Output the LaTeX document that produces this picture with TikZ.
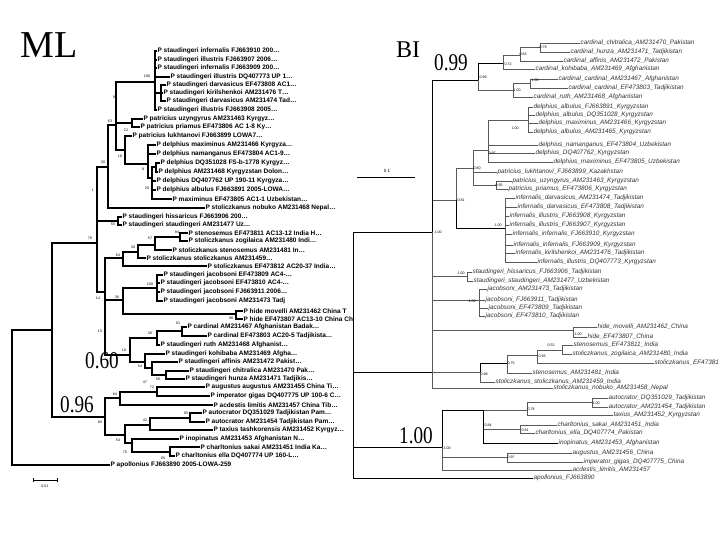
\documentclass[tikz,border=0pt]{standalone}
\usepackage{graphicx}
\usepackage{fontspec}
\setmainfont{Liberation Serif}
\newfontfamily\taxfont{Liberation Sans}
\tikzset{
  mlleaf/.style={anchor=west,inner sep=0.4pt,font=\taxfont\bfseries\fontsize{6.5}{7}\selectfont},
  bileaf/.style={anchor=west,inner sep=0.4pt,text=black!80,font=\taxfont\itshape\fontsize{6.4}{7}\selectfont},
  mledge/.style={line width=1.3pt},
  biedge/.style={line width=0.6pt,draw=black!65},
  support/.style={inner sep=0pt,font=\taxfont\fontsize{3.6}{4}\selectfont},
  bigval/.style={inner sep=0pt,font=\fontsize{24}{24}\selectfont},
}
\begin{document}
\begin{tikzpicture}[x=1pt,y=-1pt]
\useasboundingbox[fill=white] (0,0) rectangle (720,540);

% ---- ML tree ----
\node[inner sep=0pt,font=\fontsize{38}{38}\selectfont] (mltitle) at (49,45) {ML};

\foreach \n/\x/\y/\t in {
 1/157/51/{P staudingeri infernalis FJ663910 200\ldots},
 2/157/60/{P staudingeri illustris FJ663907 2006\ldots},
 3/157/68/{P staudingeri infernalis FJ663909 200\ldots},
 4/170/77/{P staudingeri illustris DQ407773 UP 1\ldots},
 5/166/85/{P staudingeri darvasicus EF473808 AC1\ldots},
 6/163/93/{P staudingeri kirilshenkoi AM231476 T\ldots},
 7/166/101/{P staudingeri darvasicus AM231474 Tad\ldots},
 8/157/110/{P staudingeri illustris FJ663908 2005\ldots},
 9/143/119/{P patricius uzyngyrus AM231463 Kyrgyz\ldots},
 10/140/127/{P patricius priamus EF473806 AC 1-8 Ky\ldots},
 11/132/136/{P patricius lukhtanovi FJ663899 LOWA7\ldots},
 12/156/145/{P delphius maximinus AM231466 Kyrgyza\ldots},
 13/156/154/{P delphius namanganus EF473804 AC1-9\ldots},
 14/160/163/{P delphius DQ351028 FS-b-1778 Kyrgyz\ldots},
 15/158/172/{P delphius AM231468 Kyrgyzstan Dolon\ldots},
 16/156/181/{P delphius DQ407762 UP 190-11 Kyrgyza\ldots},
 17/156/190/{P delphius albulus FJ663891 2005-LOWA\ldots},
 18/172/199/{P maximinus EF473805 AC1-1 Uzbekistan\ldots},
 19/205/208/{P stoliczkanus nobuko AM231468 Nepal\ldots},
 20/122/217/{P staudingeri hissaricus FJ663906 200\ldots},
 21/122/225/{P staudingeri staudingeri AM231477 Uz\ldots},
 22/188/233/{P stenosemus EF473811 AC13-12 India H\ldots},
 23/188/241/{P stoliczkanus zogilaica AM231480 Indi\ldots},
 24/172/250/{P stoliczkanus stenosemus AM231481 In\ldots},
 25/146/258/{P stoliczkanus stoliczkanus AM231459\ldots},
 26/207/266/{P stoliczkanus EF473812 AC20-37 India\ldots},
 27/163/275/{P staudingeri jacobsoni EF473809 AC4-\ldots},
 28/160/283/{P staudingeri jacobsoni EF473810 AC4-\ldots},
 29/160/292/{P staudingeri jacobsoni FJ663911 2006\ldots},
 30/163/301/{P staudingeri jacobsoni AM231473 Tadj},
 31/243/311/{P hide movelli AM231462 China T},
 32/243/319/{P hide EF473807 AC13-10 China Ch},
 33/187/327/{P cardinal AM231467 Afghanistan Badak\ldots},
 34/207/336/{P cardinal EF473803 AC20-5 Tadjikista\ldots},
 35/160/345/{P staudingeri ruth AM231468 Afghanist\ldots},
 36/165/354/{P staudingeri kohibaba AM231469 Afgha\ldots},
 37/178/362/{P staudingeri affinis AM231472 Pakist\ldots},
 38/189/371/{P staudingeri chitralica AM231470 Pak\ldots},
 39/185/379/{P staudingeri hunza AM231471 Tadjikis\ldots},
 40/205/387/{P augustus augustus AM231455 China Ti\ldots},
 41/210/396/{P imperator gigas DQ407775 UP 100-6 C\ldots},
 42/213/405/{P acdestis limitis AM231457 China Tib\ldots},
 43/202/413/{P autocrator DQ351029 Tadjikistan Pam\ldots},
 44/205/422/{P autocrator AM231454 Tadjikistan Pam\ldots},
 45/213/430/{P taxius tashkorensis AM231452 Kyrgyz\ldots},
 46/179/439/{P inopinatus AM231453 Afghanistan N\ldots},
 47/200/447/{P charltonius sakai AM231451 India Ka\ldots},
 48/175/456/{P charltonius ella DQ407774 UP 160-L\ldots},
 49/110/465/{P apollonius FJ663890 2005-LOWA-259}}
  \node[mlleaf] (m\n) at (\x,\y) {\t};

\foreach \n/\x/\y in {mRoot/12/398, mI/52/330, mA/97/243, mB/108/167, mC/116/125,
  mInf/155/82, mDarv/161/93, mPat/132/123, mLuk/125/150, mDel/148/164,
  mDel2/152/178, mDel3/156/167, mHis/118/221, mS/105/292, mSto/123/258,
  mSto2/138/252, mSto3/155/245, mSten/180/237, mJH/123/300, mJac/157/288,
  mHide/236/314, mCar/130/355, mCar2/157/338, mCard/182/331, mKoh/145/362,
  mAff/152/368, mChi/166/375, mL/105/417, mAug/120/398, mAI/157/392,
  mAut/125/435, mAuT/150/425, mAu/190/418, mIno/132/443, mCh/170/452}
  \coordinate (\n) at (\x,\y);

\foreach \p/\c in {mRoot/mI, mRoot/m49, mI/mA, mI/mL, mA/mB, mA/mHis, mA/mS,
  mB/mC, mB/m19, mC/mInf, mC/mPat, mC/mLuk,
  mInf/m1, mInf/m2, mInf/m3, mInf/m4, mInf/mDarv, mInf/m8,
  mDarv/m5, mDarv/m6, mDarv/m7, mPat/m9, mPat/m10, mLuk/m11, mLuk/mDel,
  mDel/m12, mDel/m13, mDel/mDel2, mDel2/mDel3, mDel2/m16, mDel2/m17, mDel2/m18,
  mDel3/m14, mDel3/m15, mHis/m20, mHis/m21, mS/mSto, mS/mJH, mS/mCar,
  mSto/mSto2, mSto/m26, mSto2/mSto3, mSto2/m25, mSto3/mSten, mSto3/m24,
  mSten/m22, mSten/m23, mJH/mJac, mJH/mHide,
  mJac/m27, mJac/m28, mJac/m29, mJac/m30, mHide/m31, mHide/m32,
  mCar/mCar2, mCar/mKoh, mCar2/mCard, mCar2/m35, mCard/m33, mCard/m34,
  mKoh/m36, mKoh/mAff, mAff/m37, mAff/mChi, mChi/m38, mChi/m39,
  mL/mAug, mL/mAut, mAug/mAI, mAug/m42, mAI/m40, mAI/m41,
  mAut/mAuT, mAut/mIno, mAuT/mAu, mAuT/m45, mAu/m43, mAu/m44,
  mIno/m46, mIno/mCh, mCh/m47, mCh/m48}
  \draw[mledge] (\p) |- (\c);
\foreach \p/\c in {mA/mHis, mC/mInf, mC/mLuk}
  \draw[mledge,line width=2.2pt] (\p) |- (\c);

% bootstrap values
\foreach \x/\y/\t [count=\i] in {147/76/100, 115/97/99, 110/121/63, 126/130/22,
  120/156/16, 143/169/8, 147/188/20, 103/162/30, 93/190/1, 113/224/55,
  90/238/76, 177/232/94, 150/238/57, 133/247/30, 118/255/64, 150/284/100,
  117/297/36, 98/298/14, 231/318/98, 178/323/61, 150/333/36, 100/331/15,
  140/366/54, 145/382/47, 158/379/56, 152/387/72, 115/394/84, 100/422/85,
  186/413/85, 145/420/42, 118/440/54, 125/452/70, 163/458/95, 124/350/18}
  \node[support] (ms\i) at (\x,\y) {\t};

\node[bigval] (mlval1) at (102,361) {\scalebox{.8}[1]{0.60}};
\node[bigval] (mlval2) at (77,405) {\scalebox{.8}[1]{0.96}};

\coordinate (mbarL) at (33,480);
\coordinate (mbarR) at (57,480);
\draw[line width=0.5pt] (mbarL) -- (mbarR);
\draw[line width=0.5pt] (mbarL) ++(0,-2) -- ++(0,4);
\draw[line width=0.5pt] (mbarR) ++(0,-2) -- ++(0,4);
\node[support] (mbarlab) at (45,486) {0.01};

% ---- BI tree ----
\node[inner sep=0pt,font=\fontsize{24}{24}\selectfont] (bititle) at (408,50) {BI};

\foreach \n/\x/\y/\t in {
 1/580/43/{cardinal\_chitralica\_AM231470\_Pakistan},
 2/570/52/{cardinal\_hunza\_AM231471\_Tadjikistan},
 3/563/61/{cardinal\_affinis\_AM231472\_Pakistan},
 4/535/69/{cardinal\_kohibaba\_AM231469\_Afghanistan},
 5/558/79/{cardinal\_cardinal\_AM231467\_Afghanistan},
 6/568/88/{cardinal\_cardinal\_EF473803\_Tadjikistan},
 7/533/97/{cardinal\_ruth\_AM231468\_Afghanistan},
 8/533/107/{delphius\_albulus\_FJ663891\_Kyrgyzstan},
 9/535/115/{delphius\_albulus\_DQ351028\_Kyrgyzstan},
 10/538/123/{delphius\_maximinus\_AM231466\_Kyrgyzstan},
 11/533/132/{delphius\_albulus\_AM231465\_Kyrgyzstan},
 12/538/145/{delphius\_namanganus\_EF473804\_Uzbekistan},
 13/535/153/{delphius\_DQ407762\_Kyrgyzstan},
 14/553/162/{delphius\_maximinus\_EF473805\_Uzbekistan},
 15/497/172/{patricius\_lukhtanovi\_FJ663899\_Kazakhstan},
 16/512/181/{patricius\_uzyngyrus\_AM231463\_Kyrgyzstan},
 17/508/189/{patricius\_priamus\_EF473806\_Kyrgyzstan},
 18/515/198/{infernalis\_darvasicus\_AM231474\_Tadjikistan},
 19/517/207/{infernalis\_darvasicus\_EF473808\_Tadjikistan},
 20/509/216/{infernalis\_illustris\_FJ663908\_Kyrgyzstan},
 21/509/225/{infernalis\_illustris\_FJ663907\_Kyrgyzstan},
 22/512/234/{infernalis\_infernalis\_FJ663910\_Kyrgyzstan},
 23/513/245/{infernalis\_infernalis\_FJ663909\_Kyrgyzstan},
 24/515/253/{infernalis\_kirilshenkoi\_AM231476\_Tadjikistan},
 25/537/262/{infernalis\_illustris\_DQ407773\_Kyrgyzstan},
 26/472/272/{staudingeri\_hissaricus\_FJ663906\_Tadjikistan},
 27/473/281/{staudingeri\_staudingeri\_AM231477\_Uzbekistan},
 28/487/289/{jacobsoni\_AM231473\_Tadjikistan},
 29/485/300/{jacobsoni\_FJ663911\_Tadjikistan},
 30/488/308/{jacobsoni\_EF473809\_Tadjikistan},
 31/485/316/{jacobsoni\_EF473810\_Tadjikistan},
 32/597/327/{hide\_movelli\_AM231462\_China},
 33/587/337/{hide\_EF473807\_China},
 34/573/345/{stenosemus\_EF473811\_India},
 35/572/354/{stoliczkanus\_zogilaica\_AM231480\_India},
 36/654/363/{stoliczkanus\_EF47381},
 37/532/373/{stenosemus\_AM231481\_India},
 38/495/382/{stoliczkanus\_stoliczkanus\_AM231459\_India},
 39/553/388/{stoliczkanus\_nobuko\_AM231458\_Nepal},
 40/608/398/{autocrator\_DQ351029\_Tadjikistan},
 41/608/407/{autocrator\_AM231454\_Tadjikistan},
 42/613/415/{taxius\_AM231452\_Kyrgyzstan},
 43/557/425/{charltonius\_sakai\_AM231451\_India},
 44/535/433/{charltonius\_ella\_DQ407774\_Pakistan},
 45/558/443/{inopinatus\_AM231453\_Afghanistan},
 46/572/453/{augustus\_AM231456\_China},
 47/583/462/{imperator\_gigas\_DQ407775\_China},
 48/572/470/{acdestis\_limitis\_AM231457},
 49/533/478/{apollonius\_FJ663890}}
  \node[bileaf] (b\n) at (\x,\y) {\t};

\foreach \n/\x/\y in {bRoot/353/355, bUp/432/232, bJoin/432/372, bCard/478/80,
  bC1/503/63, bC11/520/55, bC12/540/47, bC2/513/90, bC21/530/83,
  bDP/456/200, bD/473/168, bDel/488/150, bDel1/528/120, bPat/496/185,
  bInf/505/228, bSt/467/276, bJac/479/300, bHide/573/330, bSten/480/372,
  bSten1/507/363, bSten2/537/355, bSten3/562/350, bC/442/447, bAut/483/410,
  bAT/527/410, bAu/592/402, bCh/520/429, bAug/507/457}
  \coordinate (\n) at (\x,\y);

\foreach \p/\c in {bRoot/bUp, bRoot/bJoin, bRoot/bC, bRoot/b49}
  \draw[biedge,draw=black,line width=0.7pt] (\p) |- (\c);
\foreach \p/\c in {bUp/bCard, bUp/bDP, bUp/bSt, bUp/bJac, bUp/bHide, bUp/bSten, bUp/b39,
  bCard/bC1, bCard/bC2, bC1/bC11, bC1/b4, bC11/bC12, bC11/b3, bC12/b1, bC12/b2,
  bC2/bC21, bC2/b7, bC21/b5, bC21/b6, bDP/bD, bDP/bInf, bD/bDel, bD/b15, bD/bPat,
  bDel/bDel1, bDel/b12, bDel/b13, bDel/b14, bDel1/b8, bDel1/b9, bDel1/b10, bDel1/b11,
  bPat/b16, bPat/b17, bInf/b18, bInf/b19, bInf/b20, bInf/b21, bInf/b22, bInf/b23,
  bInf/b24, bInf/b25, bSt/b26, bSt/b27, bJac/b28, bJac/b29, bJac/b30, bJac/b31,
  bHide/b32, bHide/b33, bSten/bSten1, bSten/b38, bSten1/bSten2, bSten1/b37,
  bSten2/bSten3, bSten2/b36, bSten3/b34, bSten3/b35, bC/bAut, bC/bAug, bC/b48,
  bAut/bAT, bAut/bCh, bAut/b45, bAT/bAu, bAT/b42, bAu/b40, bAu/b41,
  bCh/b43, bCh/b44, bAug/b46, bAug/b47}
  \draw[biedge] (\p) |- (\c);
\foreach \p/\c in {bUp/bCard, bDP/bInf, bCard/bC1, bSten/bSten1, bC/bAut, bAut/b45}
  \draw[biedge,draw=black,line width=0.8pt] (\p) |- (\c);

% posterior probabilities
\foreach \x/\y/\t [count=\i] in {543/47/0.79, 523/54/0.63, 508/64/0.72, 483/77/0.99,
  535/80/1.00, 517/90/1.00, 515/128/1.00, 492/153/0.97, 477/168/0.80, 499/185/0.95,
  461/200/0.81, 498/225/1.00, 438/232/1.00, 461/273/1.00, 472/301/1.00, 578/334/1.00,
  551/345/0.52, 542/356/0.93, 511/363/0.75, 484/374/0.98, 596/403/1.00, 531/409/0.78,
  488/425/0.84, 525/430/0.91, 447/448/1.00, 511/457/0.97}
  \node[support] (bs\i) at (\x,\y) {\t};

\node[bigval] (bival1) at (451,63) {\scalebox{.8}[1]{0.99}};
\node[bigval] (bival2) at (416,436) {\scalebox{.8}[1]{1.00}};

\coordinate (bbarL) at (357,177);
\coordinate (bbarR) at (415,177);
\draw[line width=0.6pt] (bbarL) -- (bbarR);
\node[support,font=\taxfont\fontsize{4.5}{5}\selectfont] (bbarlab) at (387,171) {0.1};
\end{tikzpicture}
\end{document}
